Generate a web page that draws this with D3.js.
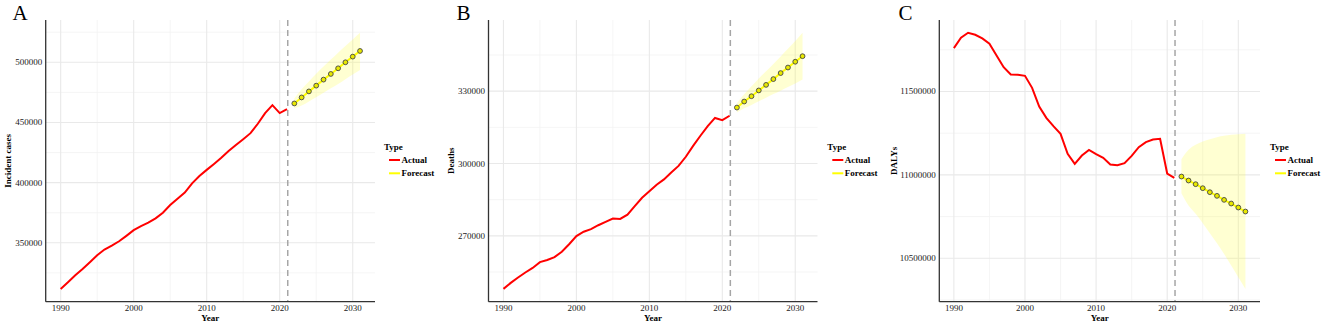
<!DOCTYPE html>
<html>
<head>
  <script src="https://d3js.org/d3.v7.min.js"></script>
  <style>
    body { margin: 0; padding: 0; background: white; }
    svg { display: block; font-family: 'Liberation Serif', 'Times New Roman', serif; }
  </style>
</head>
<body>
<svg id="canvas" width="1325" height="325"></svg>
<script>
  // observed years and forecast years
  const years = [1990,1991,1992,1993,1994,1995,1996,1997,1998,1999,2000,2001,2002,2003,2004,2005,
                 2006,2007,2008,2009,2010,2011,2012,2013,2014,2015,2016,2017,2018,2019,2020,2021];
  const fcYears = [2022,2023,2024,2025,2026,2027,2028,2029,2030,2031];
  const xTicks = [1990, 2000, 2010, 2020, 2030];

  // A - incident cases
  const incActual = [311700,317300,323000,328300,333900,339700,344400,347700,351300,355800,360500,363900,366700,370300,375000,
                     381400,386700,391700,399400,405500,410600,415500,420600,426300,431300,436100,441100,448900,457800,464400,457800,461100];
  const incFc = [465800,470800,475800,480600,485600,490300,495000,500000,504700,509400];
  const incLo = [461500,464000,467500,471000,474700,478400,482000,486000,489800,493500];
  const incHi = [470000,477500,484000,490500,496500,502300,508000,513500,519000,524500];
  const incTicks = [350000, 400000, 450000, 500000];

  // B - deaths
  const dthActual = [248000,250500,252700,254800,256700,259100,260000,261200,263400,266500,269900,271700,272800,274400,275800,
                     277200,277000,278800,282300,285800,288500,291200,293400,296300,299000,302800,307300,311500,315500,318900,318000,319800];
  const dthFc = [323200,325700,327900,330300,332600,335000,337500,339800,342200,344500];
  const dthLo = [321200,322900,324300,325800,327300,328800,330200,331700,333200,334800];
  const dthHi = [325000,328700,332000,335300,338300,341300,344400,347600,350800,354200];
  const dthTicks = [270000, 300000, 330000];

  // C - DALYs
  const dalyActual = [11760000,11822000,11852000,11840000,11818000,11786000,11716000,11646000,11602000,11600000,11594000,
                      11522000,11410000,11342000,11292000,11246000,11126000,11066000,11116000,11150000,11124000,11102000,
                      11062000,11058000,11070000,11114000,11166000,11196000,11212000,11216000,11008000,10982000];
  const dalyFc = [10990000,10966000,10944000,10920000,10896000,10874000,10850000,10828000,10804000,10780000];
  const dalyLo = [10890000,10816000,10766000,10710000,10650000,10590000,10526000,10456000,10386000,10316000];
  const dalyHi = [11094000,11150000,11180000,11200000,11214000,11226000,11234000,11240000,11244000,11246000];
  const dalyTicks = [10500000, 11000000, 11500000];

  const svg = d3.select("#canvas");

  function drawPanel(p) {
    const top = 20, bottom = 301.7;
    const x = d3.scaleLinear().domain([1987.95, 2033.05]).range([p.left, p.right]);
    const all = p.actual.concat(p.lo, p.hi);
    const ext = d3.extent(all);
    const pad = (ext[1] - ext[0]) * 0.05;
    const y = d3.scaleLinear().domain([ext[0] - pad, ext[1] + pad]).range([bottom, top]);

    const g = svg.append("g");

    // minor grid
    const yMinor = [];
    for (let i = 0; i < p.ticks.length; i++) {
      const step = p.ticks[1] - p.ticks[0];
      yMinor.push(p.ticks[i] - step / 2);
      if (i === p.ticks.length - 1) yMinor.push(p.ticks[i] + step / 2);
    }
    g.selectAll(".ymin").data(yMinor.filter(v => y(v) > top && y(v) < bottom)).join("line")
      .attr("x1", p.left).attr("x2", p.right).attr("y1", d => y(d)).attr("y2", d => y(d))
      .attr("stroke", "#f3f3f3").attr("stroke-width", 0.8);
    g.selectAll(".xmin").data([1995, 2005, 2015, 2025]).join("line")
      .attr("x1", d => x(d)).attr("x2", d => x(d)).attr("y1", top).attr("y2", bottom)
      .attr("stroke", "#f3f3f3").attr("stroke-width", 0.8);
    // major grid
    g.selectAll(".ymaj").data(p.ticks).join("line")
      .attr("x1", p.left).attr("x2", p.right).attr("y1", d => y(d)).attr("y2", d => y(d))
      .attr("stroke", "#e9e9e9").attr("stroke-width", 1.1);
    g.selectAll(".xmaj").data(xTicks).join("line")
      .attr("x1", d => x(d)).attr("x2", d => x(d)).attr("y1", top).attr("y2", bottom)
      .attr("stroke", "#e9e9e9").attr("stroke-width", 1.1);

    // forecast band
    const band = fcYears.map((yr, i) => ({yr, lo: p.lo[i], hi: p.hi[i]}));
    g.append("path").datum(band)
      .attr("d", d3.area().curve(d3.curveMonotoneX).x(d => x(d.yr)).y0(d => y(d.lo)).y1(d => y(d.hi)))
      .attr("fill", "#ffff33").attr("fill-opacity", 0.22);

    // dashed divider
    g.append("line")
      .attr("x1", x(2021.1)).attr("x2", x(2021.1)).attr("y1", top).attr("y2", bottom)
      .attr("stroke", "#a6a6a6").attr("stroke-width", 1.5).attr("stroke-dasharray", "6,4");

    // actual line
    g.append("path").datum(years.map((yr, i) => [yr, p.actual[i]]))
      .attr("d", d3.line().x(d => x(d[0])).y(d => y(d[1])))
      .attr("fill", "none").attr("stroke", "#ff0000").attr("stroke-width", 2);

    // forecast line + points
    const fc = fcYears.map((yr, i) => [yr, p.fc[i]]);
    g.append("path").datum(fc)
      .attr("d", d3.line().x(d => x(d[0])).y(d => y(d[1])))
      .attr("fill", "none").attr("stroke", "#ffff00").attr("stroke-width", 2);
    g.selectAll(".pt").data(fc).join("circle")
      .attr("cx", d => x(d[0])).attr("cy", d => y(d[1])).attr("r", 2.4)
      .attr("fill", "#e8e800").attr("stroke", "#444").attr("stroke-width", 0.9);

    // axes lines
    g.append("line").attr("x1", p.left).attr("x2", p.left).attr("y1", top).attr("y2", bottom)
      .attr("stroke", "#333").attr("stroke-width", 1.3);
    g.append("line").attr("x1", p.left).attr("x2", p.right).attr("y1", bottom).attr("y2", bottom)
      .attr("stroke", "#333").attr("stroke-width", 1.3);

    // tick labels
    g.selectAll(".xl").data(xTicks).join("text")
      .attr("x", d => x(d)).attr("y", bottom + 9.5).attr("text-anchor", "middle")
      .attr("font-size", 9).attr("fill", "#222").text(d => d);
    g.selectAll(".yl").data(p.ticks).join("text")
      .attr("x", p.left - 3.5).attr("y", d => y(d) + 3).attr("text-anchor", "end")
      .attr("font-size", 9).attr("fill", "#222").text(d => d);

    // titles
    g.append("text").attr("x", (p.left + p.right) / 2).attr("y", 320.5).attr("text-anchor", "middle")
      .attr("font-size", 9).attr("font-weight", "bold").text("Year");
    g.append("text").attr("transform", `translate(${p.ytx},${(top + bottom) / 2}) rotate(-90)`)
      .attr("text-anchor", "middle").attr("font-size", 9).attr("font-weight", "bold").text(p.ytitle);
    g.append("text").attr("x", p.lx).attr("y", 20).attr("font-size", 21).text(p.letter);

    // legend
    const lg = g.append("g").attr("transform", `translate(${p.legend},0)`);
    lg.append("text").attr("x", 0).attr("y", 149.5).attr("font-size", 9).attr("font-weight", "bold").text("Type");
    [["Actual", "#ff0000", 160], ["Forecast", "#ffff00", 173.3]].forEach(([lab, col, yy]) => {
      lg.append("line").attr("x1", 5).attr("x2", 16).attr("y1", yy).attr("y2", yy)
        .attr("stroke", col).attr("stroke-width", 2);
      lg.append("text").attr("x", 17.5).attr("y", yy + 3).attr("font-size", 9)
        .attr("font-weight", "bold").text(lab);
    });
  }

  drawPanel({left: 45.7, right: 375, actual: incActual, fc: incFc, lo: incLo, hi: incHi, ticks: incTicks,
             ytitle: "Incident cases", ytx: 10.5, letter: "A", lx: 12.5, legend: 384});
  drawPanel({left: 488.5, right: 817.5, actual: dthActual, fc: dthFc, lo: dthLo, hi: dthHi, ticks: dthTicks,
             ytitle: "Deaths", ytx: 453.5, letter: "B", lx: 456.5, legend: 827.3});
  drawPanel({left: 939.3, right: 1260, actual: dalyActual, fc: dalyFc, lo: dalyLo, hi: dalyHi, ticks: dalyTicks,
             ytitle: "DALYs", ytx: 897, letter: "C", lx: 898.5, legend: 1270});
</script>
</body>
</html>
